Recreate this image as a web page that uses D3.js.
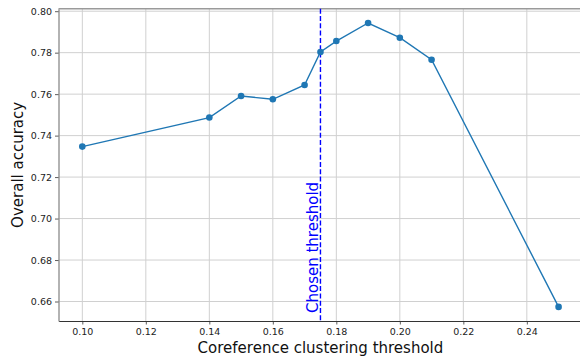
<!DOCTYPE html>
<html>
<head>
<meta charset="utf-8">
<script src="https://cdn.jsdelivr.net/npm/d3@7"></script>
<style>
  body { margin: 0; background: #fff; }
  svg { display: block; font-family: "DejaVu Sans", sans-serif; }
</style>
</head>
<body>
<svg width="580" height="358"></svg>
<script>
// thresholds tried and the accuracy each one gave
var thresholds = [0.10, 0.14, 0.15, 0.16, 0.17, 0.175, 0.18, 0.19, 0.20, 0.21, 0.25];
var accuracy = [0.7347, 0.7487, 0.7591, 0.7575, 0.7644, 0.7803, 0.7856, 0.7943, 0.7872, 0.7766, 0.6574];
var chosen = 0.175;
var xTicks = [0.10, 0.12, 0.14, 0.16, 0.18, 0.20, 0.22, 0.24];
var yTicks = [0.66, 0.68, 0.70, 0.72, 0.74, 0.76, 0.78, 0.80];

var width = 580, height = 358;
// plot box (window.top is reserved, so prefix these)
var pLeft = 58.5, pRight = 582.4, pTop = 8.7, pBottom = 321;

var svg = d3.select("svg");

var x = d3.scaleLinear().domain([0.0925, 0.2575]).range([pLeft, pRight]);
var y = d3.scaleLinear().domain([0.6506, 0.8012]).range([pBottom, pTop]);

//grid
var grid = svg.append("g");
grid.selectAll(".gx").data(xTicks).enter().append("line")
  .attr("x1", d => x(d)).attr("x2", d => x(d))
  .attr("y1", pTop).attr("y2", pBottom)
  .attr("stroke", "#d0d0d0").attr("stroke-width", 1);
grid.selectAll(".gy").data(yTicks).enter().append("line")
  .attr("x1", pLeft).attr("x2", width)
  .attr("y1", d => y(d)).attr("y2", d => y(d))
  .attr("stroke", "#d0d0d0").attr("stroke-width", 1);

//axes
var xAxis = d3.axisBottom(x).tickValues(xTicks).tickFormat(d3.format(".2f"))
  .tickSize(3.5).tickSizeOuter(0).tickPadding(4);
var yAxis = d3.axisLeft(y).tickValues(yTicks).tickFormat(d3.format(".2f"))
  .tickSize(3.5).tickSizeOuter(0).tickPadding(3);

var gx = svg.append("g").attr("transform", "translate(0," + pBottom + ")").call(xAxis);
var gy = svg.append("g").attr("transform", "translate(" + pLeft + ",0)").call(yAxis);
[gx, gy].forEach(function(g) {
  g.selectAll("text").attr("font-size", 9.5).attr("fill", "#222").attr("font-family", "DejaVu Sans");
  g.selectAll(".tick line").attr("stroke", "#333").attr("stroke-width", 0.8);
});
gx.select(".domain").attr("stroke", "#333").attr("stroke-width", 1.2);
gy.select(".domain").attr("stroke", "#9a9a9a").attr("stroke-width", 1.5);

//top spine
svg.append("line")
  .attr("x1", pLeft).attr("x2", width)
  .attr("y1", pTop).attr("y2", pTop)
  .attr("stroke", "#9a9a9a").attr("stroke-width", 1.5);

//chosen threshold line
svg.append("line")
  .attr("x1", x(chosen)).attr("x2", x(chosen))
  .attr("y1", pTop).attr("y2", pBottom)
  .attr("stroke", "#0000ff").attr("stroke-width", 1.4)
  .attr("stroke-dasharray", "5,2.3");

svg.append("text")
  .attr("transform", "translate(" + (x(chosen) - 2.5) + ",313) rotate(-90)")
  .attr("font-size", 15).attr("fill", "#0000ff")
  .text("Chosen threshold");

//line + points
var line = d3.line().x((d, i) => x(thresholds[i])).y(d => y(d));
svg.append("path")
  .datum(accuracy)
  .attr("d", line)
  .attr("fill", "none").attr("stroke", "#1f77b4").attr("stroke-width", 1.4);

svg.selectAll(".pt").data(accuracy).enter().append("circle")
  .attr("cx", (d, i) => x(thresholds[i]))
  .attr("cy", d => y(d))
  .attr("r", 3.3)
  .attr("fill", "#1f77b4");

//labels
svg.append("text")
  .attr("x", (pLeft + pRight) / 2).attr("y", 353)
  .attr("text-anchor", "middle").attr("font-size", 15).attr("fill", "#111")
  .text("Coreference clustering threshold");

svg.append("text")
  .attr("transform", "translate(23," + ((pTop + pBottom) / 2) + ") rotate(-90)")
  .attr("text-anchor", "middle").attr("font-size", 15).attr("fill", "#111")
  .text("Overall accuracy");
</script>
</body>
</html>
